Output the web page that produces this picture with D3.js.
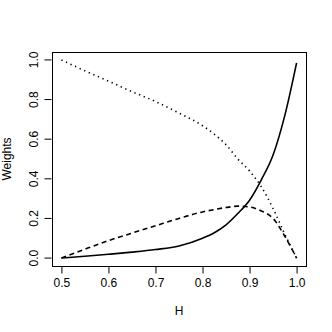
<!DOCTYPE html>
<html>
<head>
<meta charset="utf-8">
<script src="https://cdn.jsdelivr.net/npm/d3@7"></script>
<style>
    body { margin: 0; background: #fff; }
    text { font-family: "Liberation Sans", Arial, sans-serif; font-size: 12px; fill: #000; }
</style>
</head>
<body>
<div id="chart"></div>
<script>
'use strict';

// H values the curves were read at
const hValues = [0.5, 0.55, 0.6, 0.65, 0.7, 0.75, 0.8, 0.825, 0.85, 0.875, 0.9, 0.925, 0.95, 0.975, 1.0];
// solid curve
const solidWeights = [0, 0.009, 0.019, 0.03, 0.043, 0.061, 0.1, 0.128, 0.168, 0.225, 0.292, 0.395, 0.52, 0.72, 0.985];
// dashed curve
const dashedWeights = [0, 0.045, 0.088, 0.126, 0.163, 0.2, 0.233, 0.245, 0.255, 0.262, 0.258, 0.238, 0.2, 0.11, 0];
// dotted curve
const dottedWeights = [1, 0.945, 0.893, 0.84, 0.79, 0.732, 0.668, 0.625, 0.572, 0.5, 0.44, 0.36, 0.25, 0.12, 0];

const xTicks = [0.5, 0.6, 0.7, 0.8, 0.9, 1.0];
const yTicks = [0, 0.2, 0.4, 0.6, 0.8, 1.0];

const w = 332;
const h = 332;
const box = {left: 52, right: 306, top: 52, bottom: 266};

// R style: axis range padded by 4% each side
const x = d3.scaleLinear().domain([0.48, 1.02]).range([box.left, box.right]);
const y = d3.scaleLinear().domain([-0.04, 1.04]).range([box.bottom, box.top]);

const svg = d3.select('#chart')
    .append('svg')
    .attr('width', w)
    .attr('height', h);

// x axis
const xAxis = svg.append('g')
    .attr('transform', `translate(0,${box.bottom + 0.5})`)
    .call(d3.axisBottom(x).tickValues(xTicks).tickSize(7).tickPadding(5).tickFormat(d3.format('.1f')));
xAxis.select('.domain').attr('stroke', 'none');
xAxis.selectAll('text').style('font-size', '12px');

// y axis
const yAxis = svg.append('g')
    .attr('transform', `translate(${box.left - 0.5},0)`)
    .call(d3.axisLeft(y).tickValues(yTicks).tickSize(7).tickFormat(d3.format('.1f')));
yAxis.select('.domain').attr('stroke', 'none');
yAxis.selectAll('text')
    .attr('x', 0)
    .attr('dy', 0)
    .attr('text-anchor', 'middle')
    .attr('transform', d => `translate(-14,${y(d)}) rotate(-90)`)
    .attr('y', 0)
    .style('font-size', '12px');
yAxis.selectAll('.tick').attr('transform', 'translate(0,0)');
yAxis.selectAll('.tick line')
    .attr('y1', d => y(d))
    .attr('y2', d => y(d));

// plot box
svg.append('rect')
    .attr('x', box.left + 0.5)
    .attr('y', box.top + 0.5)
    .attr('width', box.right - box.left)
    .attr('height', box.bottom - box.top)
    .attr('fill', 'none')
    .attr('stroke', '#000')
    .attr('stroke-width', 1);

// axis titles
svg.append('text')
    .attr('x', (box.left + box.right) / 2)
    .attr('y', 315)
    .attr('text-anchor', 'middle')
    .text('H');

svg.append('text')
    .attr('transform', `translate(10.5,${(box.top + box.bottom) / 2}) rotate(-90)`)
    .attr('text-anchor', 'middle')
    .text('Weights');

// curves
const line = d3.line()
    .x((d, i) => x(hValues[i]))
    .y(d => y(d))
    .curve(d3.curveMonotoneX);

const series = [
    {values: solidWeights, dash: null},
    {values: dashedWeights, dash: '5,3.6'},
    {values: dottedWeights, dash: '1.3,3.7'}
];

svg.selectAll('path.curve')
    .data(series)
    .enter()
    .append('path')
    .attr('class', 'curve')
    .attr('d', d => line(d.values))
    .attr('fill', 'none')
    .attr('stroke', '#000')
    .attr('stroke-width', 1.6)
    .attr('stroke-dasharray', d => d.dash);
</script>
</body>
</html>
